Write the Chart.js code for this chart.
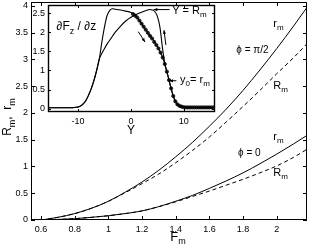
<!DOCTYPE html>
<html>
<head>
<meta charset="utf-8">
<script src="https://cdn.jsdelivr.net/npm/chart.js@4.4.0/dist/chart.umd.min.js"></script>
<style>
  html, body { margin: 0; padding: 0; background: #fff; }
  #wrap { position: relative; width: 310px; height: 248px; }
  canvas { position: absolute; left: 0; top: 0; }
</style>
</head>
<body>
<div id="wrap">
  <canvas id="main" width="310" height="248"></canvas>
  <canvas id="inset" width="220" height="140"></canvas>
</div>
<script>
// main plot: R_m and r_m against F_m
var fm = [0.6, 0.7, 0.8, 0.9, 1.0, 1.1, 1.2, 1.3, 1.4, 1.5, 1.6, 1.7, 1.8, 1.9, 2.0, 2.1, 2.18];
var rmHalfPi = [0, 0.05, 0.12, 0.22, 0.35, 0.52, 0.71, 0.93, 1.18, 1.45, 1.75, 2.07, 2.42, 2.8, 3.2, 3.62, 3.97];
var RmHalfPi = [0, 0.05, 0.12, 0.22, 0.35, 0.51, 0.68, 0.86, 1.07, 1.3, 1.55, 1.83, 2.12, 2.42, 2.73, 3.03, 3.29];
var rmZero = [0, 0.01, 0.025, 0.05, 0.08, 0.12, 0.17, 0.25, 0.35, 0.46, 0.59, 0.73, 0.88, 1.05, 1.23, 1.42, 1.58];
var RmZero = [0, 0.01, 0.025, 0.05, 0.08, 0.12, 0.17, 0.25, 0.34, 0.44, 0.54, 0.65, 0.76, 0.88, 1.01, 1.17, 1.32];
var mainXTicks = [0.6, 0.8, 1, 1.2, 1.4, 1.6, 1.8, 2];
var mainYTicks = [0, 0.5, 1, 1.5, 2, 2.5, 3, 3.5, 4];

// inset: dFz/dz against Y
var insetY = [-15.7, -14, -12, -11, -10, -9.5, -9, -8.5, -8, -7.5, -7, -6.5, -6, -5.5, -5, -4.5, -4, -3.5, -3, -2, -1, 0,
  1, 2, 3, 3.5, 4, 4.5, 5, 5.5, 6, 6.5, 7, 7.5, 8, 8.5, 9, 9.5, 10, 11, 12, 14, 15.9];
var forceDown = [0.02, 0.02, 0.02, 0.025, 0.04, 0.07, 0.13, 0.22, 0.36, 0.53, 0.74, 1.0, 1.3, 1.75, 2.15, 2.45, 2.58, 2.62, 2.61, 2.59, 2.56, 2.52,
  2.42, 2.23, 2.03, 1.93, 1.84, 1.73, 1.63, 1.5, 1.34, 1.12, 0.86, 0.58, 0.33, 0.16, 0.08, 0.05, 0.035, 0.03, 0.03, 0.03, 0.03];
var forceUp = [0.02, 0.02, 0.02, 0.025, 0.04, 0.07, 0.13, 0.22, 0.36, 0.53, 0.74, 1.0, 1.3, 1.45, 1.58, 1.7, 1.8, 1.9, 2.0, 2.16, 2.3, 2.4,
  2.47, 2.53, 2.58, 2.6, 2.59, 2.55, 2.42, 2.12, 1.55, 1.12, 0.86, 0.58, 0.33, 0.16, 0.08, 0.05, 0.035, 0.03, 0.03, 0.03, 0.03];
var dotsY = [0.4, 0.8, 1.2, 1.6, 2.0, 2.4, 2.8, 3.2, 3.6, 4.0, 4.4, 4.8, 5.2, 5.6, 6.0, 6.4, 6.8, 7.2, 7.6, 8.0, 8.4, 8.8, 9.2, 9.6,
  10.0, 10.4, 10.8, 11.2, 11.6, 12.0, 12.4, 12.8, 13.2, 13.6, 14.0, 14.4, 14.8, 15.2, 15.6];
var dotsV = [2.48, 2.44, 2.39, 2.31, 2.23, 2.15, 2.07, 1.99, 1.91, 1.84, 1.75, 1.67, 1.58, 1.47, 1.34, 1.17, 0.97, 0.75, 0.53, 0.33, 0.19, 0.11, 0.07, 0.05,
  0.035, 0.03, 0.03, 0.03, 0.03, 0.03, 0.03, 0.03, 0.03, 0.03, 0.03, 0.03, 0.03, 0.03, 0.03];
var insetXTicks = [-10, 0, 10];
var insetYTicks = [0, 0.5, 1, 1.5, 2, 2.5];

var FONT = '"Liberation Sans", Arial, sans-serif';

function pts(xs, ys) {
  return xs.map(function (x, i) { return { x: x, y: ys[i] }; });
}

// text with subscripts: parts = [[text, isSub], ...]
function drawParts(ctx, parts, x, y, size, align) {
  var subSize = Math.round(size * 0.72);
  var w = 0;
  parts.forEach(function (p) {
    ctx.font = (p[1] ? subSize : size) + 'px ' + FONT;
    w += ctx.measureText(p[0]).width;
  });
  var cx = align === 'center' ? x - w / 2 : x;
  ctx.textBaseline = 'middle';
  ctx.textAlign = 'left';
  parts.forEach(function (p) {
    ctx.font = (p[1] ? subSize : size) + 'px ' + FONT;
    ctx.fillText(p[0], cx, p[1] ? y + size * 0.38 : y);
    cx += ctx.measureText(p[0]).width;
  });
}

function arrow(ctx, x1, y1, x2, y2) {
  var a = Math.atan2(y2 - y1, x2 - x1), h = 4;
  ctx.beginPath();
  ctx.moveTo(x1, y1); ctx.lineTo(x2, y2);
  ctx.stroke();
  ctx.beginPath();
  ctx.moveTo(x2, y2);
  ctx.lineTo(x2 - h * Math.cos(a - 0.4), y2 - h * Math.sin(a - 0.4));
  ctx.lineTo(x2 - h * Math.cos(a + 0.4), y2 - h * Math.sin(a + 0.4));
  ctx.closePath();
  ctx.fill();
}

// box with inward ticks on all four sides
function drawFrame(chart, len, lw) {
  var ctx = chart.ctx, a = chart.chartArea, x = chart.scales.x, y = chart.scales.y;
  ctx.save();
  ctx.strokeStyle = '#000';
  ctx.lineWidth = lw;
  ctx.strokeRect(a.left + 0.5, a.top + 0.5, a.right - a.left - 1, a.bottom - a.top - 1);
  ctx.lineWidth = 1;
  ctx.beginPath();
  x.ticks.forEach(function (t) {
    var px = Math.round(x.getPixelForValue(t.value)) + 0.5;
    ctx.moveTo(px, a.bottom); ctx.lineTo(px, a.bottom - len);
    ctx.moveTo(px, a.top); ctx.lineTo(px, a.top + len);
  });
  y.ticks.forEach(function (t) {
    var py = Math.round(y.getPixelForValue(t.value)) + 0.5;
    ctx.moveTo(a.left, py); ctx.lineTo(a.left + len, py);
    ctx.moveTo(a.right, py); ctx.lineTo(a.right - len, py);
  });
  ctx.stroke();
  ctx.restore();
}

function axis(min, max, ticks, pad, fixed, isX) {
  return {
    type: 'linear', min: min, max: max,
    afterBuildTicks: function (s) { s.ticks = ticks.map(function (v) { return { value: v }; }); },
    afterFit: function (s) {
      if (isX) { s.height = fixed; s.paddingLeft = 0; s.paddingRight = 0; }
      else { s.width = fixed; s.paddingTop = 0; s.paddingBottom = 0; }
    },
    grid: { display: false, drawTicks: false },
    border: { display: false },
    ticks: {
      autoSkip: false, maxRotation: 0, padding: pad, color: '#000',
      font: { family: FONT, size: 9 },
      callback: function (v) { return String(v); }
    }
  };
}

var mainLabels = {
  id: 'mainLabels',
  afterDraw: function (chart) {
    var ctx = chart.ctx, x = chart.scales.x, y = chart.scales.y;
    drawFrame(chart, 4, 1);
    ctx.save();
    ctx.fillStyle = '#000';
    function at(parts, fx, fy, size) {
      drawParts(ctx, parts, x.getPixelForValue(fx), y.getPixelForValue(fy), size, 'left');
    }
    at([['r', false], ['m', true]], 1.98, 3.66, 11);
    at([['\u03d5 = \u03c0/2', false]], 1.76, 3.16, 10);
    at([['R', false], ['m', true]], 1.98, 2.5, 11);
    at([['r', false], ['m', true]], 1.98, 1.55, 11);
    at([['\u03d5 = 0', false]], 1.77, 1.24, 10);
    at([['R', false], ['m', true]], 1.98, 0.88, 11);
    drawParts(ctx, [['F', false], ['m', true]], 178, 237, 13, 'center');
    ctx.translate(8, 117);
    ctx.rotate(-Math.PI / 2);
    drawParts(ctx, [['R', false], ['m', true], [',  r', false], ['m', true]], 0, 0, 12, 'center');
    ctx.restore();
  }
};

new Chart(document.getElementById('main'), {
  type: 'line',
  data: {
    datasets: [
      { data: pts(fm, rmHalfPi), borderColor: '#000', borderWidth: 1 },
      { data: pts(fm, RmHalfPi), borderColor: '#000', borderWidth: 1, borderDash: [4, 3] },
      { data: pts(fm, rmZero), borderColor: '#000', borderWidth: 1 },
      { data: pts(fm, RmZero), borderColor: '#000', borderWidth: 1, borderDash: [4, 3] }
    ]
  },
  options: {
    responsive: false, animation: false, devicePixelRatio: 1,
    layout: { padding: { left: 0, right: 3, top: 2, bottom: 0 } },
    elements: { point: { radius: 0 }, line: { cubicInterpolationMode: 'monotone', fill: false } },
    plugins: { legend: { display: false }, tooltip: { enabled: false } },
    scales: {
      x: axis(0.54, 2.18, mainXTicks, 4, 28, true),
      y: axis(0, 4.07, mainYTicks, 3, 31, false)
    }
  },
  plugins: [mainLabels]
});

var insetLabels = {
  id: 'insetLabels',
  beforeDraw: function (chart) {
    var a = chart.chartArea, ctx = chart.ctx;
    ctx.save();
    ctx.fillStyle = '#fff';
    ctx.fillRect(a.left, a.top, a.right - a.left, a.bottom - a.top);
    ctx.restore();
  },
  afterDraw: function (chart) {
    var ctx = chart.ctx, x = chart.scales.x, y = chart.scales.y;
    drawFrame(chart, 3, 1.4);
    ctx.save();
    ctx.fillStyle = '#000';
    ctx.strokeStyle = '#000';
    ctx.lineWidth = 1;
    function px(v) { return x.getPixelForValue(v); }
    function py(v) { return y.getPixelForValue(v); }
    drawParts(ctx, [['\u2202F', false], ['z', true], [' / \u2202z', false]], px(-14.1), py(2.15), 12, 'left');
    drawParts(ctx, [['Y = R', false], ['m', true]], px(7.8), py(2.56), 11, 'left');
    drawParts(ctx, [['y', false], ['0', true], ['= r', false], ['m', true]], px(9.3), py(0.75), 11, 'left');
    arrow(ctx, px(7.3), py(2.6), px(4.3), py(2.6));
    arrow(ctx, px(8.6), py(0.73), px(7.25), py(0.73));
    arrow(ctx, px(1.38), py(2.02), px(2.65), py(1.75));
    arrow(ctx, px(6.6), py(1.67), px(6.25), py(2.06));
    drawParts(ctx, [['Y', false]], px(0), 131, 12, 'center');
    ctx.restore();
  }
};

new Chart(document.getElementById('inset'), {
  type: 'line',
  data: {
    datasets: [
      { data: pts(insetY, forceDown), borderColor: '#000', borderWidth: 1.1, pointRadius: 0 },
      { data: pts(insetY, forceUp), borderColor: '#000', borderWidth: 1.1, pointRadius: 0 },
      { data: pts(dotsY, dotsV), showLine: false, pointRadius: 1.6, pointBorderWidth: 0.8,
        pointBorderColor: '#000', pointBackgroundColor: 'rgba(0,0,0,0.75)' }
    ]
  },
  options: {
    responsive: false, animation: false, devicePixelRatio: 1,
    layout: { padding: { left: 0, right: 5, top: 5, bottom: 0 } },
    elements: { line: { cubicInterpolationMode: 'monotone', fill: false } },
    plugins: { legend: { display: false }, tooltip: { enabled: false } },
    scales: {
      x: axis(-15.7, 15.9, insetXTicks, 4, 28, true),
      y: axis(-0.09, 2.72, insetYTicks, 3, 48, false)
    }
  },
  plugins: [insetLabels]
});
</script>
</body>
</html>
